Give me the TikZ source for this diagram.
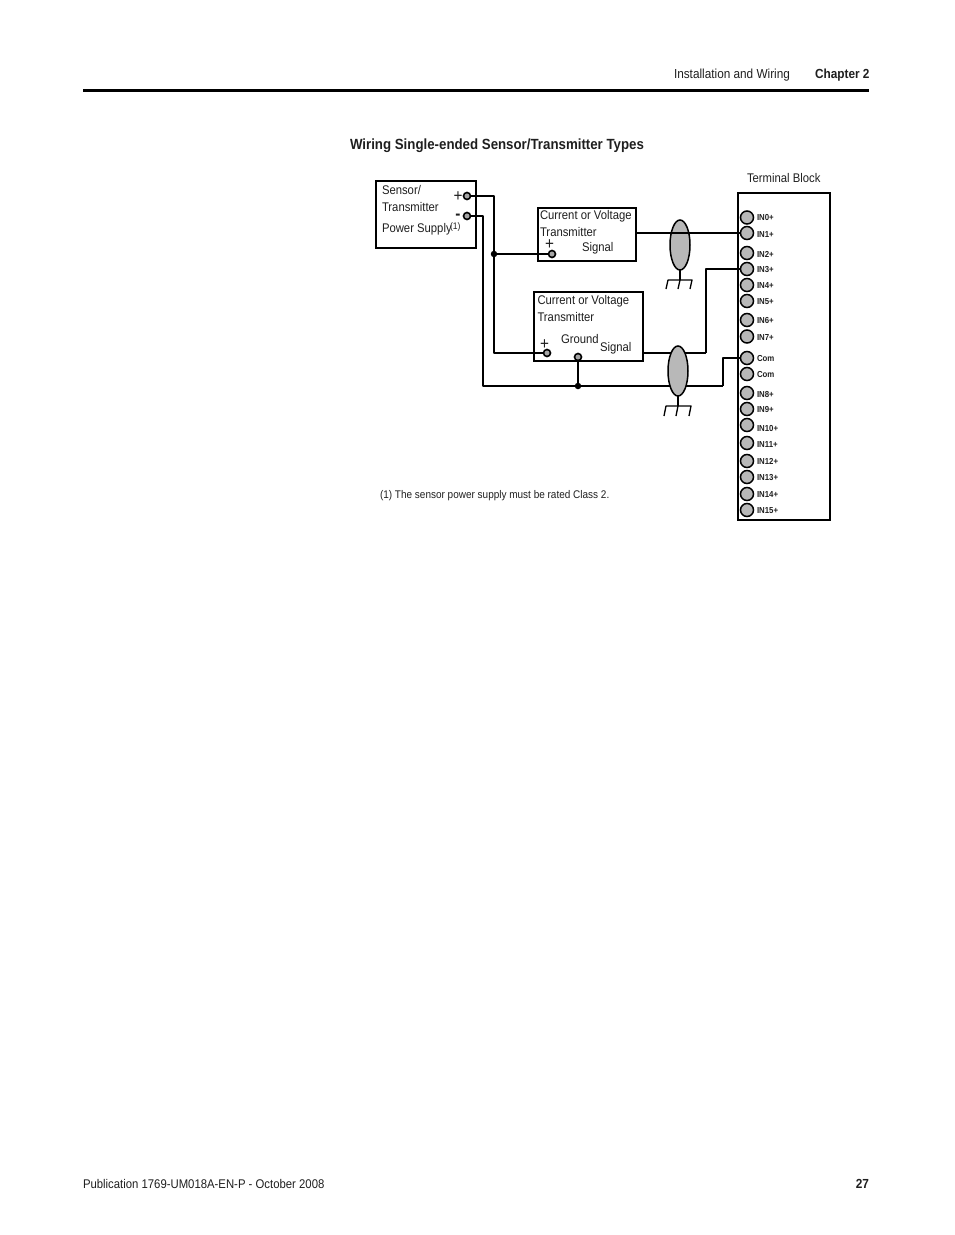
\documentclass[tikz,border=0pt]{standalone}
\usepackage{fontspec}
\usetikzlibrary{shapes.geometric}
\setmainfont[FakeStretch=0.9]{Liberation Sans}
\begin{document}
\begin{tikzpicture}[x=1pt,y=-1pt,
  every node/.style={inner sep=0pt,outer sep=0pt,anchor=base west,text=black!88},
  txt/.style={font=\fontsize{12.55}{14}\selectfont},
  tiny/.style={font=\bfseries\fontsize{8.7}{10}\selectfont},
  head/.style={font=\bfseries\fontsize{13.15}{14}\selectfont},
  sign/.style={font=\fontsize{17}{17}\selectfont,anchor=center},
  boxx/.style={draw=black,line width=1.7pt},
  wire/.style={draw=black,line width=1.8pt,line join=round},
  thinwire/.style={draw=black,line width=1.3pt,line join=round},
  hairwire/.style={draw=black,line width=1.15pt,line join=round},
  term/.style={circle,draw=black,fill=black!28,line width=1.5pt,minimum size=13pt,anchor=center},
  pin/.style={circle,draw=black,fill=black!35,line width=1.6pt,minimum size=7pt,anchor=center},
  jdot/.style={circle,fill=black,minimum size=6.5pt,anchor=center},
  shield/.style={ellipse,draw=black,fill=black!28,line width=1.5pt}]
\useasboundingbox (0,0) rectangle (954,1235);
% page furniture
\node[font=\fontsize{13.1}{14}\selectfont] (h1) at (674,78) {Installation and Wiring};
\node[head] (h2) at (815,78) {Chapter 2};
\coordinate (ruleL) at (83,90.5); \coordinate (ruleR) at (869,90.5);
\draw[black,line width=3pt] (ruleL) -- (ruleR);
\node[font=\bfseries\fontsize{14.75}{16}\selectfont] (title) at (350,149) {Wiring Single-ended Sensor/Transmitter Types};
\node[font=\fontsize{12.6}{14}\selectfont] (foot) at (83,1188) {Publication 1769-UM018A-EN-P - October 2008};
\node[head,anchor=base east] (pg) at (869,1188) {27};
\node[font=\fontsize{11.1}{12}\selectfont] (note) at (380,498.5) {(1) The sensor power supply must be rated Class 2.};
\node[txt] (tbt) at (747,182) {Terminal Block};
% boxes
\draw[boxx] (376,181) rectangle (476,248);
\draw[boxx] (538,208) rectangle (636,261);
\draw[boxx] (534,292) rectangle (643,361);
\draw[boxx] (738,193) rectangle (830,520);
% box texts
\node[txt] (s1) at (382,194.5) {Sensor/};
\node[txt] (s2) at (382,211.5) {Transmitter};
\node[txt] (s3) at (382,232.5) {Power Supply};
\node[font=\fontsize{9.5}{10}\selectfont] (s4) at (450,229) {(1)};
\node[sign] (sp) at (458,197) {+};
\node[font=\bfseries\fontsize{17}{17}\selectfont,anchor=base] (sm) at (458,219.5) {-};
\node[txt] (a1) at (540,219.5) {Current or Voltage};
\node[txt] (a2) at (540,236.5) {Transmitter};
\node[txt] (a3) at (582,251.5) {Signal};
\node[sign] (ap) at (549.5,244.5) {+};
\node[txt] (b1) at (537.5,304.5) {Current or Voltage};
\node[txt] (b2) at (537.5,321.5) {Transmitter};
\node[txt] (b3) at (561,343.5) {Ground};
\node[txt] (b4) at (600,351.5) {Signal};
\node[sign] (bp) at (544.5,344.5) {+};
% terminal labels and terminals
\foreach \n/\lab/\y/\ly in {a/IN0+/217.5/220.5,b/IN1+/233/237.5,c/IN2+/253/257,d/IN3+/269/272.5,e/IN4+/285/288.5,f/IN5+/301/304.5,g/IN6+/320/323.5,h/IN7+/336.5/340,i/Com/358/361.5,j/Com/374/377.5,k/IN8+/393/397.5,l/IN9+/409/412.5,m/IN10+/425/431.5,n/IN11+/443/447.5,o/IN12+/461/464,p/IN13+/477/480,q/IN14+/494/497.5,r/IN15+/510/513.5}{
  \node[tiny] (L\n) at (757,\ly) {\lab};
  \node[term] (T\n) at (747,\y) {};
}
% pins
\node[pin] (pplus) at (467,196) {};
\node[pin] (pminus) at (467,216) {};
\node[pin] (apin) at (552,254) {};
\node[pin] (bpin) at (547,353) {};
\node[pin] (gpin) at (578,357) {};
\coordinate (asig) at (636,233);
\coordinate (bsig) at (643,353);
% shield 1 (wire passes in front)
\node[shield,minimum width=20pt,minimum height=50pt,anchor=center] (sh1) at (680,245) {};
\coordinate (g1) at (680,280);
\coordinate (g1l) at (668,280); \coordinate (g1r) at (692,280);
\coordinate (g1la) at (666,289); \coordinate (g1ma) at (678,289); \coordinate (g1ra) at (690,289);
\draw[thinwire] (sh1.south) -- (g1);
\draw[thinwire] (g1la) -- (g1l) -- (g1r) -- (g1ra);
\draw[thinwire] (g1) -- (g1ma);
\draw[wire] (asig) -- (Tb.west);
% wires
\coordinate (v1) at (494,196);
\node[jdot] (j1) at (494,254) {};
\coordinate (v1b) at (494,353);
\draw[wire] (pplus.east) -- (v1) -- (j1) -- (v1b) -- (bpin.west);
\draw[wire] (j1) -- (apin.west);
\coordinate (v2) at (483,216);
\coordinate (v2b) at (483,386);
\node[jdot] (j2) at (578,386) {};
\coordinate (v3) at (723,386);
\coordinate (v3t) at (723,358);
\draw[wire] (pminus.east) -- (v2) -- (v2b) -- (j2) -- (v3);
\draw[thinwire] (v3) -- (v3t) -- (Ti.west);
\draw[wire] (gpin.south) -- (j2);
\coordinate (v4) at (706,353);
\coordinate (v4t) at (706,269);
\draw[wire] (bsig) -- (v4);
\draw[hairwire] (v4) -- (v4t) -- (Td.west);
% shield 2 (covers wires)
\node[shield,minimum width=20pt,minimum height=50pt,anchor=center] (sh2) at (678,371) {};
\coordinate (g2) at (678,406);
\coordinate (g2l) at (666,406); \coordinate (g2r) at (691,406);
\coordinate (g2la) at (664,416); \coordinate (g2ma) at (676,416); \coordinate (g2ra) at (689,416);
\draw[thinwire] (sh2.south) -- (g2);
\draw[thinwire] (g2la) -- (g2l) -- (g2r) -- (g2ra);
\draw[thinwire] (g2) -- (g2ma);
\end{tikzpicture}
\end{document}
